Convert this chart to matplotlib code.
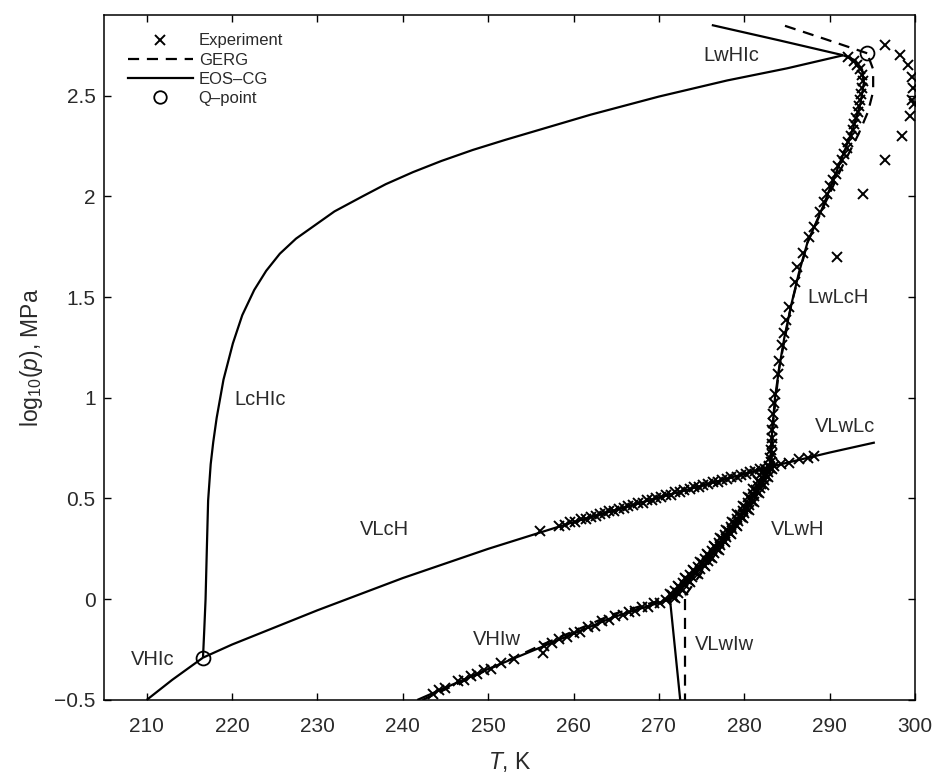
import matplotlib
matplotlib.use("Agg")
import matplotlib.pyplot as plt
from matplotlib.lines import Line2D

plt.rcParams['font.family'] = ['Liberation Sans', 'DejaVu Sans']
plt.rcParams['mathtext.fontset'] = 'custom'
plt.rcParams['mathtext.rm'] = 'Liberation Sans'
plt.rcParams['mathtext.it'] = 'Liberation Sans:italic'

# ---------------- EOS-CG phase boundaries (T [K], log10 p [MPa]) ----------------
vhic_T = [210.0, 213.0, 216.6]
vhic_y = [-0.50, -0.40, -0.29]

vlch_T = [216.6, 220.0, 230.0, 240.0, 250.0, 260.0, 270.0, 283.0, 290.0, 295.3]
vlch_y = [-0.29, -0.225, -0.055, 0.105, 0.25, 0.383, 0.505, 0.657, 0.728, 0.778]

lchic_T = [216.6, 216.75, 216.9, 217.05, 217.2, 217.5, 217.8, 218.2, 219.0, 220.1,
           221.2, 222.6, 224.0, 225.6, 227.5, 229.5, 232.0, 235.3, 238.0, 241.2,
           244.5, 248.2, 252.0, 256.0, 262.0, 270.0, 278.0, 285.0, 291.6]
lchic_y = [-0.29, -0.15, 0.00, 0.25, 0.49, 0.67, 0.78, 0.90, 1.09, 1.27,
           1.41, 1.535, 1.63, 1.715, 1.79, 1.85, 1.925, 2.00, 2.06, 2.12,
           2.175, 2.23, 2.28, 2.33, 2.405, 2.495, 2.575, 2.635, 2.70]

lwhic_T = [291.6, 284.0, 276.2]
lwhic_y = [2.70, 2.775, 2.85]

lwlch_T = [283.0, 283.3, 283.6, 284.1, 284.7, 285.5, 286.4, 287.4, 289.2, 291.2,
           292.7, 293.6, 294.0, 293.8, 293.0, 291.6]
lwlch_y = [0.657, 0.85, 1.00, 1.15, 1.30, 1.46, 1.62, 1.77, 1.947, 2.166,
           2.33, 2.46, 2.56, 2.63, 2.675, 2.70]

vhiw_T = [241.7, 249.8, 256.1, 264.6, 271.3]
vhiw_y = [-0.50, -0.35, -0.24, -0.09, 0.00]

vlwh_T = [271.3, 274.8, 277.5, 279.5, 281.5, 283.0]
vlwh_y = [0.00, 0.16, 0.295, 0.41, 0.54, 0.657]

vlwiw_T = [271.3, 272.5]
vlwiw_y = [0.00, -0.50]

# ---------------- GERG phase boundaries ----------------
g_vhiw_T = [242.3, 256.1, 264.6, 269.0, 273.1]
g_vhiw_y = [-0.50, -0.23, -0.075, -0.02, 0.02]

g_vlwiw_T = [273.1, 273.1]
g_vlwiw_y = [0.00, -0.50]

g_vlwh_T = [273.1, 275.5, 278.0, 280.0, 281.8, 283.2]
g_vlwh_y = [0.02, 0.16, 0.30, 0.41, 0.54, 0.66]

g_lwlch_T = [283.2, 283.3, 284.1, 285.5, 287.4, 289.3, 291.5, 293.4, 294.5, 295.1, 295.1, 294.4]
g_lwlch_y = [0.66, 0.85, 1.15, 1.46, 1.77, 1.95, 2.15, 2.31, 2.42, 2.52, 2.63, 2.71]

g_lwhic_T = [294.4, 289.5, 284.5]
g_lwhic_y = [2.71, 2.78, 2.85]

# ---------------- Q-points ----------------
q_T = [216.6, 294.4]
q_y = [-0.29, 2.71]

# ---------------- Experimental data ----------------
exp_vlch_T = [256.1, 258.3, 259.0, 259.6, 260.2, 260.9, 261.5, 262.0, 262.6, 263.1,
              263.7, 264.2, 264.8, 265.3, 265.9, 266.4, 267.0, 267.5, 268.1, 268.6,
              269.2, 269.7, 270.3, 270.8, 271.4, 271.9, 272.5, 273.0, 273.6, 274.1,
              274.7, 275.2, 275.8, 276.3, 276.9, 277.4, 278.0, 278.5, 279.1, 279.6,
              280.2, 280.7, 281.3, 281.8, 282.4, 282.9, 283.5, 284.3, 285.2, 286.4,
              287.5, 288.2]
exp_vlch_y = [0.338, 0.362, 0.368, 0.381, 0.383, 0.397, 0.399, 0.409, 0.413, 0.424,
              0.426, 0.437, 0.440, 0.450, 0.453, 0.464, 0.466, 0.477, 0.480, 0.491,
              0.493, 0.503, 0.507, 0.517, 0.519, 0.530, 0.532, 0.542, 0.545, 0.556,
              0.558, 0.568, 0.571, 0.581, 0.584, 0.594, 0.596, 0.606, 0.609, 0.619,
              0.622, 0.632, 0.635, 0.645, 0.648, 0.658, 0.660, 0.672, 0.677, 0.694,
              0.700, 0.710]

exp_vhiw_T = [243.5, 244.3, 245.0, 246.5, 247.2, 248.0, 248.7, 249.5, 250.3, 251.5,
              253.0, 256.4, 256.6, 257.5, 258.3, 259.2, 260.0, 260.8, 261.7, 262.5,
              263.3, 264.2, 264.9, 265.8, 266.5, 267.2, 268.0, 268.7, 269.4, 270.1,
              270.8]
exp_vhiw_y = [-0.470, -0.449, -0.441, -0.408, -0.401, -0.380, -0.373, -0.353, -0.344, -0.317,
              -0.297, -0.265, -0.232, -0.219, -0.197, -0.189, -0.167, -0.161, -0.137, -0.131,
              -0.109, -0.101, -0.082, -0.078, -0.061, -0.058, -0.040, -0.038, -0.021, -0.019,
              -0.004]

exp_vlwh_T = [271.6, 271.5, 272.2, 271.9, 272.6, 272.3, 273.1, 272.8, 273.5, 273.2,
              273.9, 273.7, 274.4, 274.1, 274.8, 274.6, 275.3, 275.0, 275.7, 275.4,
              276.0, 275.8, 276.4, 276.2, 276.8, 276.6, 277.2, 277.0, 277.6, 277.4,
              277.9, 277.8, 278.3, 278.1, 278.6, 278.5, 279.0, 278.8, 279.3, 279.2,
              279.6, 279.5, 280.0, 279.8, 280.3, 280.1, 280.6, 280.4, 280.9, 280.7,
              281.2, 281.0, 281.5, 281.4, 281.8, 281.6, 282.0, 281.9, 282.3, 282.2,
              282.5, 282.4, 282.8, 282.7, 283.0, 282.9]
exp_vlwh_y = [0.01, 0.02, 0.03, 0.04, 0.05, 0.06, 0.07, 0.08, 0.09, 0.10,
              0.11, 0.12, 0.13, 0.14, 0.15, 0.16, 0.17, 0.18, 0.19, 0.20,
              0.21, 0.22, 0.23, 0.24, 0.25, 0.26, 0.27, 0.28, 0.29, 0.30,
              0.31, 0.32, 0.33, 0.34, 0.35, 0.36, 0.37, 0.38, 0.39, 0.40,
              0.41, 0.42, 0.43, 0.44, 0.45, 0.46, 0.47, 0.48, 0.49, 0.50,
              0.51, 0.52, 0.53, 0.54, 0.55, 0.56, 0.57, 0.58, 0.59, 0.60,
              0.61, 0.62, 0.63, 0.64, 0.65, 0.66]

exp_vlwh2_T = [271.9, 271.35, 272.8, 272.2, 273.65, 273.1, 274.55, 273.95, 275.4, 274.8,
               276.2, 275.6, 277.0, 276.4, 277.8, 277.15, 278.5, 277.85, 279.2, 278.55,
               279.9, 279.2, 280.55, 279.85, 281.15, 280.45, 281.75, 281.05, 282.3, 281.6,
               282.8, 282.1, 283.3]
exp_vlwh2_y = [0.005, 0.025, 0.045, 0.065, 0.085, 0.105, 0.125, 0.145, 0.165, 0.185,
               0.205, 0.225, 0.245, 0.265, 0.285, 0.305, 0.325, 0.345, 0.365, 0.385,
               0.405, 0.425, 0.445, 0.465, 0.485, 0.505, 0.525, 0.545, 0.565, 0.585,
               0.605, 0.625, 0.645]

exp_lwlch_T = [283.1, 283.0, 283.2, 283.1, 283.2, 283.3, 283.2, 283.4, 283.4, 283.5,
               283.6, 283.9, 284.1, 284.4, 284.6, 284.9, 285.2, 285.9, 286.2, 286.9,
               287.6, 288.2, 288.9, 289.4, 289.7, 290.1, 290.4, 290.7, 291.0, 291.4,
               291.7, 292.0, 292.2, 292.5, 292.7, 292.9, 293.1, 293.3, 293.4, 293.6,
               293.7, 293.8, 293.9, 293.8, 293.6, 293.2, 292.8, 292.2]
exp_lwlch_y = [0.68, 0.70, 0.72, 0.74, 0.77, 0.80, 0.84, 0.875, 0.92, 0.975,
               1.02, 1.12, 1.18, 1.26, 1.32, 1.386, 1.45, 1.575, 1.65, 1.72,
               1.80, 1.85, 1.92, 1.97, 2.01, 2.05, 2.08, 2.11, 2.15, 2.18,
               2.21, 2.24, 2.27, 2.30, 2.33, 2.36, 2.39, 2.42, 2.45, 2.48,
               2.51, 2.54, 2.57, 2.60, 2.63, 2.65, 2.67, 2.69]

exp_out_T = [296.5, 298.2, 299.2, 299.6, 299.8, 299.9, 299.6, 299.4, 298.5, 296.5, 293.9, 290.9]
exp_out_y = [2.751, 2.70, 2.65, 2.59, 2.54, 2.46, 2.48, 2.40, 2.30, 2.18, 2.01, 1.70]

# ---------------- Region labels ----------------
region_names = ['LwHIc', 'LwLcH', 'LcHIc', 'VLwLc', 'VLwH', 'VLcH', 'VHIc', 'VHIw', 'VLwIw']
region_T = [278.5, 291.0, 223.3, 291.8, 286.3, 237.9, 210.7, 251.0, 277.7]
region_y = [2.70, 1.50, 0.99, 0.855, 0.344, 0.344, -0.30, -0.20, -0.227]

# ---------------- Plot ----------------
fig = plt.figure(figsize=(9.35, 7.76), dpi=100)
ax = fig.add_axes([0.1112, 0.098, 0.8674, 0.8827])

lw = 1.6
dash = (0, (5, 3.5))
for T, y in [(vhic_T, vhic_y), (vlch_T, vlch_y), (lchic_T, lchic_y), (lwhic_T, lwhic_y),
             (lwlch_T, lwlch_y), (vhiw_T, vhiw_y), (vlwh_T, vlwh_y), (vlwiw_T, vlwiw_y)]:
    ax.plot(T, y, color='black', lw=lw, solid_capstyle='butt', solid_joinstyle='round')
for T, y in [(g_vhiw_T, g_vhiw_y), (g_vlwiw_T, g_vlwiw_y), (g_vlwh_T, g_vlwh_y),
             (g_lwlch_T, g_lwlch_y), (g_lwhic_T, g_lwhic_y)]:
    ax.plot(T, y, color='black', lw=lw, linestyle=dash)

mk = dict(marker='x', linestyle='none', color='black', markersize=7, markeredgewidth=1.4)
for T, y in [(exp_vlch_T, exp_vlch_y), (exp_vhiw_T, exp_vhiw_y), (exp_vlwh_T, exp_vlwh_y),
             (exp_vlwh2_T, exp_vlwh2_y), (exp_lwlch_T, exp_lwlch_y), (exp_out_T, exp_out_y)]:
    ax.plot(T, y, **mk)

ax.plot(q_T, q_y, marker='o', linestyle='none', markersize=10, markerfacecolor='none',
        markeredgecolor='black', markeredgewidth=1.3)

for name, T, y in zip(region_names, region_T, region_y):
    ax.text(T, y, name, ha='center', va='center', fontsize=14.5, color='#2a2a2a')

ax.set_xlim(205, 300)
ax.set_ylim(-0.5, 2.9)
ax.set_xticks(range(210, 301, 10))
ax.set_yticks([-0.5, 0, 0.5, 1, 1.5, 2, 2.5])
ax.set_yticklabels(['\u22120.5', '0', '0.5', '1', '1.5', '2', '2.5'])
ax.tick_params(direction='in', top=True, right=True, length=5, width=1,
               labelsize=15, labelcolor='#2a2a2a')
ax.tick_params(axis='x', pad=12)
ax.tick_params(axis='y', pad=6)
for s in ax.spines.values():
    s.set_linewidth(1.1)

ax.set_xlabel('$\\mathit{T}$, K', fontsize=16.5, color='#2a2a2a', labelpad=10)
ax.set_ylabel('log$_{10}$($\\mathit{p}$), MPa', fontsize=16.5, color='#2a2a2a', labelpad=10)
ax.yaxis.set_label_coords(-0.073, 0.5)

handles = [Line2D([], [], marker='x', linestyle='none', color='black', markersize=6.5,
                  markeredgewidth=1.4),
           Line2D([], [], color='black', lw=lw, linestyle=dash),
           Line2D([], [], color='black', lw=lw),
           Line2D([], [], marker='o', linestyle='none', markersize=9, markerfacecolor='none',
                  markeredgecolor='black', markeredgewidth=1.3)]
leg = ax.legend(handles, ['Experiment', 'GERG', 'EOS\u2013CG', 'Q\u2013point'],
                loc='upper left', bbox_to_anchor=(0.015, 0.99), frameon=False,
                fontsize=12, handlelength=3.9, handletextpad=0.35,
                labelspacing=0.25, borderaxespad=0.3)
for t in leg.get_texts():
    t.set_color('#2a2a2a')

fig.savefig('out.png', dpi=100)
